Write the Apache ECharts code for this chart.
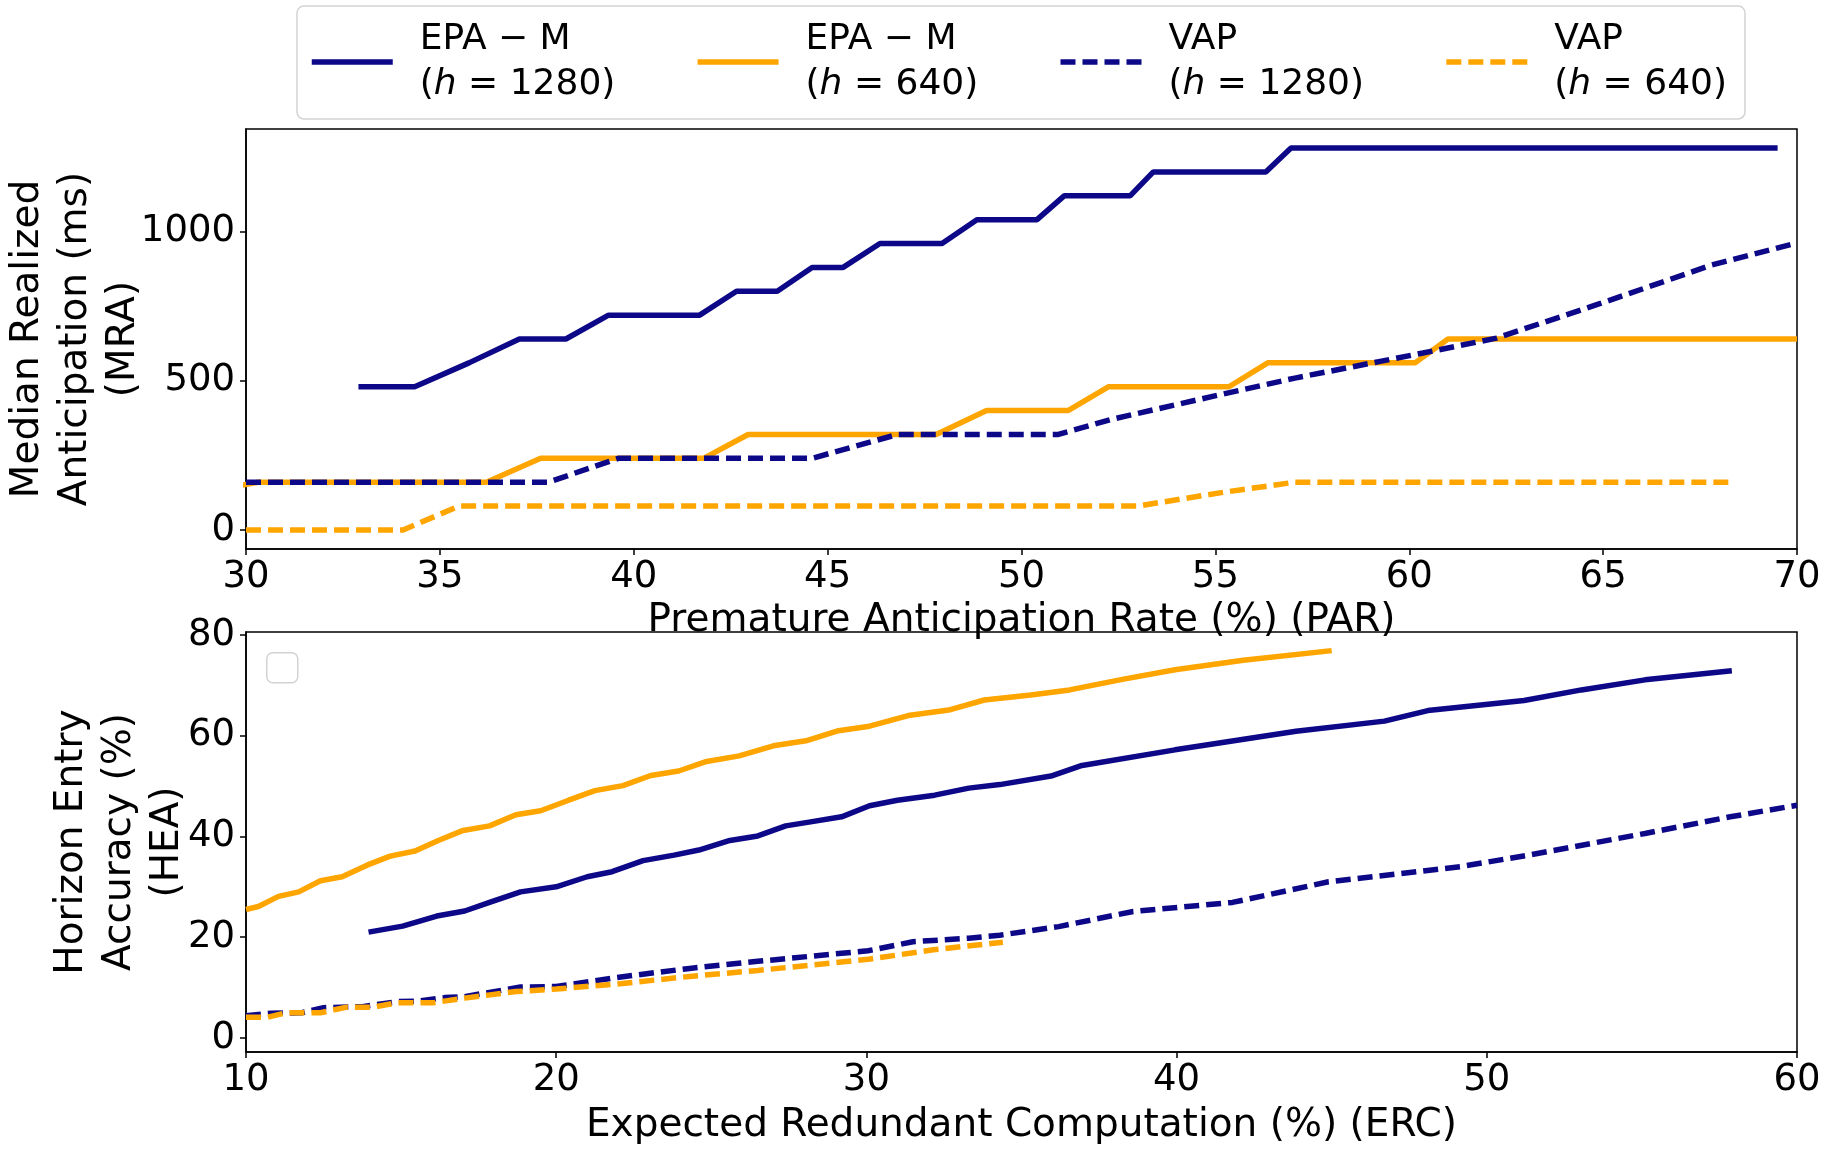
<!DOCTYPE html>
<html>
<head>
<meta charset="utf-8">
<title>MRA / HEA vs PAR / ERC</title>
<script src="https://cdn.jsdelivr.net/npm/echarts@6/dist/echarts.min.js"></script>
<style>
  html, body { margin: 0; padding: 0; background: #fff; }
  #chart { width: 1827px; height: 1149px; }
</style>
</head>
<body>
<div id="chart"></div>
<script>
// series names / legend parts
const methods = ['EPA − M', 'EPA − M', 'VAP', 'VAP'];
const horizons = ['1280', '640', '1280', '640'];
const seriesNames = ['EPA-M h1280', 'EPA-M h640', 'VAP h1280', 'VAP h640'];

// top panel: PAR (%) -> MRA (ms)
const parEpa1280 = [32.9, 34.35, 35.75, 37.05, 38.25, 39.35, 41.7, 42.65, 43.7, 44.6, 45.4, 46.35, 47.95, 48.85, 50.4, 51.1, 52.8, 53.4, 56.3, 56.95, 69.5];
const mraEpa1280 = [480, 480, 560, 640, 640, 720, 720, 800, 800, 880, 880, 960, 960, 1040, 1040, 1120, 1120, 1200, 1200, 1280, 1280];

const parEpa640 = [29.9, 30.3, 36.2, 37.6, 41.8, 42.95, 47.8, 49.1, 51.2, 52.25, 55.35, 56.35, 60.15, 61.0, 70];
const mraEpa640 = [150, 160, 160, 240, 240, 320, 320, 400, 400, 480, 480, 560, 560, 640, 640];

const parVap1280 = [30, 37.8, 39.6, 44.6, 46.8, 50.95, 52.3, 55.15, 57.05, 59.25, 60.35, 62.25, 64.95, 67.8, 70];
const mraVap1280 = [160, 160, 240, 240, 320, 320, 370, 454, 509, 565, 593, 643, 760, 888, 962];

const parVap640 = [30, 34.05, 35.5, 53.0, 55.15, 57.05, 68.3];
const mraVap640 = [0, 0, 80, 80, 125, 160, 160];

// bottom panel: ERC (%) -> HEA (%)
const ercEpa1280 = [13.95, 15.05, 16.15, 17.05, 17.85, 18.85, 20.0, 21.0, 21.8, 22.8, 23.8, 24.6, 25.6, 26.5, 27.4, 28.2, 29.2, 30.1, 31.0, 32.2, 33.3, 34.3, 35.95, 36.95, 39.95, 43.85, 46.7, 48.1, 51.2, 53.05, 55.1, 57.9];
const heaEpa1280 = [21.0, 22.2, 24.2, 25.2, 26.9, 29.0, 30.0, 32.0, 33.0, 35.2, 36.3, 37.3, 39.2, 40.1, 42.1, 42.9, 43.9, 46.1, 47.2, 48.2, 49.6, 50.3, 52.0, 54.1, 57.2, 60.9, 62.9, 65.0, 67.0, 69.1, 71.1, 72.9];

const ercEpa640 = [10.0, 10.4, 11.05, 11.7, 12.4, 13.1, 13.9, 14.65, 15.45, 16.2, 17.0, 17.85, 18.7, 19.5, 20.4, 21.25, 22.15, 23.05, 23.95, 24.85, 25.9, 27.0, 28.05, 29.1, 30.1, 31.35, 32.65, 33.8, 35.3, 36.55, 38.25, 39.95, 42.15, 45.0];
const heaEpa640 = [25.5, 26.1, 28.1, 29.0, 31.2, 32.0, 34.3, 36.1, 37.1, 39.2, 41.2, 42.1, 44.3, 45.1, 47.2, 49.1, 50.1, 52.1, 53.0, 54.9, 56.0, 58.0, 59.0, 61.0, 61.9, 64.0, 65.1, 67.1, 68.1, 69.1, 71.2, 73.1, 75.0, 76.9];

const ercVap1280 = [10.0, 10.8, 11.8, 12.5, 13.75, 14.9, 15.55, 16.4, 17.05, 18.85, 20.0, 21.95, 24.3, 26.5, 29.2, 30.05, 31.5, 33.3, 34.3, 36.2, 38.6, 41.8, 44.9, 49.15, 51.35, 55.1, 57.85, 60.0];
const heaVap1280 = [4.4, 4.9, 5.0, 6.0, 6.2, 7.2, 7.3, 8.0, 8.2, 10.1, 10.2, 12.0, 13.8, 15.2, 16.8, 17.3, 19.1, 19.8, 20.4, 22.1, 25.1, 26.9, 31.0, 34.0, 36.3, 40.6, 43.9, 46.2];

const ercVap640 = [10.0, 10.7, 11.3, 12.4, 13.25, 14.1, 14.9, 16.05, 17.05, 18.7, 20.0, 21.95, 24.3, 26.5, 30.05, 32.15, 34.4];
const heaVap640 = [4.1, 4.1, 5.0, 5.0, 6.1, 6.1, 7.0, 7.0, 7.9, 9.2, 9.7, 10.7, 12.2, 13.4, 15.6, 17.5, 19.0];

const NAVY = '#0d0887';
const ORANGE = '#ffa500';
const FONT = 'DejaVu Sans';
const LW = 5.5;

const pairs = (xs, ys) => xs.map((x, i) => [x, ys[i]]);

function lineSeries(name, idx, xs, ys, color, dashed) {
  return {
    name: name,
    type: 'line',
    xAxisIndex: idx,
    yAxisIndex: idx,
    data: pairs(xs, ys),
    symbol: 'none',
    clip: true,
    lineStyle: { color: color, width: LW, type: dashed ? [15, 7] : 'solid', cap: 'butt' },
    itemStyle: { color: color }
  };
}

function xAxisCfg(idx, min, max, interval, title, gap) {
  return {
    type: 'value', gridIndex: idx, min: min, max: max, interval: interval,
    axisLine: { show: true, onZero: false, lineStyle: { color: '#000', width: 1.5 } },
    axisTick: { show: true, inside: false, length: 6, lineStyle: { color: '#000', width: 1.5 } },
    axisLabel: { color: '#000', fontSize: 37, fontFamily: FONT, margin: 10 },
    splitLine: { show: false },
    name: title, nameLocation: 'middle', nameGap: gap, nameMoveOverlap: false,
    nameTextStyle: { color: '#000', fontSize: 39, fontFamily: FONT }
  };
}

function yAxisCfg(idx, min, max, ticks, title, gap) {
  return {
    type: 'value', gridIndex: idx, min: min, max: max,
    axisLine: { show: true, onZero: false, lineStyle: { color: '#000', width: 1.5 } },
    axisTick: { show: true, inside: false, length: 6, customValues: ticks, lineStyle: { color: '#000', width: 1.5 } },
    axisLabel: { color: '#000', fontSize: 37, fontFamily: FONT, margin: 11, customValues: ticks, formatter: v => String(v) },
    splitLine: { show: false },
    name: title, nameLocation: 'middle', nameGap: gap, nameRotate: 90, nameMoveOverlap: false,
    nameTextStyle: { color: '#000', fontSize: 39, fontFamily: FONT, lineHeight: 48, align: 'center' }
  };
}

const chart = echarts.init(document.getElementById('chart'), null, { renderer: 'canvas' });

const gridBase = { left: 246, right: 30, height: 420, show: true, borderColor: '#000', borderWidth: 1.5, containLabel: false, outerBoundsMode: 'none' };

chart.setOption({
  animation: false,
  backgroundColor: '#fff',
  textStyle: { fontFamily: FONT },
  grid: [
    Object.assign({ top: 129 }, gridBase),
    Object.assign({ top: 632 }, gridBase)
  ],
  legend: {
    data: seriesNames,
    left: 297, top: 6,
    orient: 'horizontal',
    itemWidth: 81, itemHeight: 14, itemGap: 79.5,
    padding: [11, 18, 12, 12],
    borderColor: 'rgba(200,200,200,0.8)', borderWidth: 1.5, borderRadius: 7,
    backgroundColor: '#fff',
    selectedMode: false,
    itemStyle: { opacity: 0 },
    lineStyle: { width: LW },
    textStyle: {
      color: '#000', fontSize: 36, fontFamily: FONT, lineHeight: 45,
      padding: [0, 0, 0, 22],
      rich: { i: { fontStyle: 'italic', fontSize: 36, fontFamily: FONT, lineHeight: 45 } }
    },
    formatter: function (name) {
      const k = seriesNames.indexOf(name);
      return methods[k] + '\n({i|h} = ' + horizons[k] + ')';
    }
  },
  xAxis: [
    xAxisCfg(0, 30, 70, 5, 'Premature Anticipation Rate (%) (PAR)', 52),
    xAxisCfg(1, 10, 60, 10, 'Expected Redundant Computation (%) (ERC)', 54)
  ],
  yAxis: [
    yAxisCfg(0, -64, 1344, [0, 500, 1000], 'Median Realized\nAnticipation (ms)\n(MRA)', 98),
    yAxisCfg(1, -2.8, 80.6, [0, 20, 40, 60, 80], 'Horizon Entry\nAccuracy (%)\n(HEA)', 54)
  ],
  graphic: [
    {
      type: 'rect', left: 266, top: 652,
      shape: { width: 31, height: 30, r: 6 },
      style: { fill: '#fff', stroke: 'rgba(200,200,200,0.8)', lineWidth: 1.5 }
    }
  ],
  series: [
    lineSeries(seriesNames[0], 0, parEpa1280, mraEpa1280, NAVY, false),
    lineSeries(seriesNames[1], 0, parEpa640, mraEpa640, ORANGE, false),
    lineSeries(seriesNames[2], 0, parVap1280, mraVap1280, NAVY, true),
    lineSeries(seriesNames[3], 0, parVap640, mraVap640, ORANGE, true),
    lineSeries(seriesNames[0], 1, ercEpa1280, heaEpa1280, NAVY, false),
    lineSeries(seriesNames[1], 1, ercEpa640, heaEpa640, ORANGE, false),
    lineSeries(seriesNames[2], 1, ercVap1280, heaVap1280, NAVY, true),
    lineSeries(seriesNames[3], 1, ercVap640, heaVap640, ORANGE, true)
  ]
});
</script>
</body>
</html>
